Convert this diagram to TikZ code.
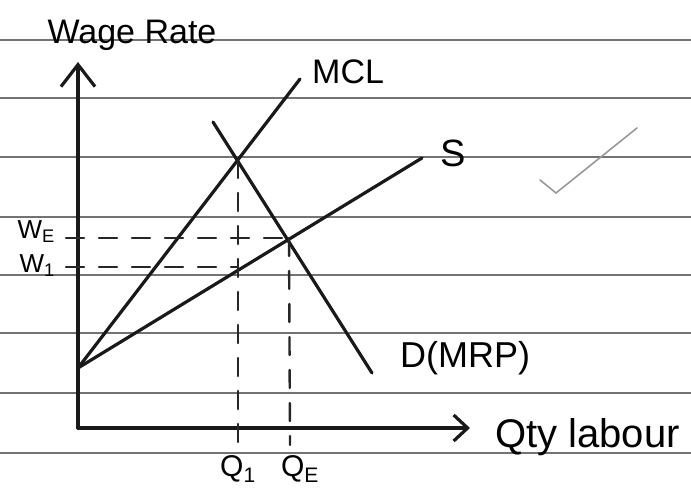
\documentclass[tikz,border=0pt]{standalone}
\usepackage{fontspec}
\setmainfont{Liberation Sans}
\usetikzlibrary{arrows.meta}

\begin{document}
\begin{tikzpicture}[x=1pt,y=-1pt,line cap=round,
  ruled/.style={black!55,line width=2.6pt},
  curve/.style={line width=3.2pt,black!90},
  guide/.style={line width=2.4pt,black!85,dash pattern=on 18pt off 15pt},
  lbl/.style={inner sep=0pt,font=\fontsize{#1}{#1}\selectfont},
  lbl/.default=34]
\useasboundingbox (0,0) rectangle (691,495);
% lined paper
\foreach \yy in {40,98,157,217,275,333,393,453}
  \draw[ruled] (0,\yy) -- (691,\yy);

% axes
\coordinate (O) at (78,428);
\coordinate (ytop) at (78,62);
\coordinate (xend) at (470,428);
\draw[curve,-{Straight Barb[length=22pt,width=34pt]}] (O) -- (ytop);
\draw[curve,-{Straight Barb[length=14pt,width=26pt]}] (O) -- (xend);
\node[lbl] (wage) at (132,35) {Wage Rate};
\node[lbl=40,anchor=west] (qty) at (495,437) {Qty labour};

% curves
\coordinate (A) at (78,368);
\coordinate (mclEnd) at (300,79);
\coordinate (sEnd) at (422,158);
\coordinate (dTop) at (213,122);
\coordinate (dEnd) at (372,373);
\coordinate (P1) at (238,160);
\coordinate (PE) at (289,238);
\draw[curve] (A) -- (mclEnd);
\draw[curve] (A) -- (sEnd);
\draw[curve] (dTop) -- (dEnd);
\node[lbl,anchor=west] (mcl) at (312,72) {MCL};
\node[lbl=38,anchor=west] (s) at (440,153) {S};
\node[lbl=36,anchor=west] (d) at (400,358) {D(MRP)};

% wage and quantity guides
\coordinate (wE) at (66,238);
\coordinate (w1) at (66,267);
\coordinate (Q1) at (238,445);
\coordinate (QE) at (290,445);
\draw[guide] (wE) -- (PE);
\draw[guide] (w1) -- (P1 |- w1);
\draw[guide] (P1) -- (Q1);
\draw[guide] (PE) -- (QE);
\node[lbl=26,anchor=east] (wElbl) at (55,232) {W\textsubscript{E}};
\node[lbl=26,anchor=east] (w1lbl) at (55,266) {W\textsubscript{1}};
\node[lbl=30,anchor=north] (q1lbl) at (238,455) {Q\textsubscript{1}};
\node[lbl=30,anchor=north] (qElbl) at (300,455) {Q\textsubscript{E}};

% tick
\draw[gray!80,line width=1.6pt] (540,180) -- (556,193) -- (637,128);
\end{tikzpicture}
\end{document}
